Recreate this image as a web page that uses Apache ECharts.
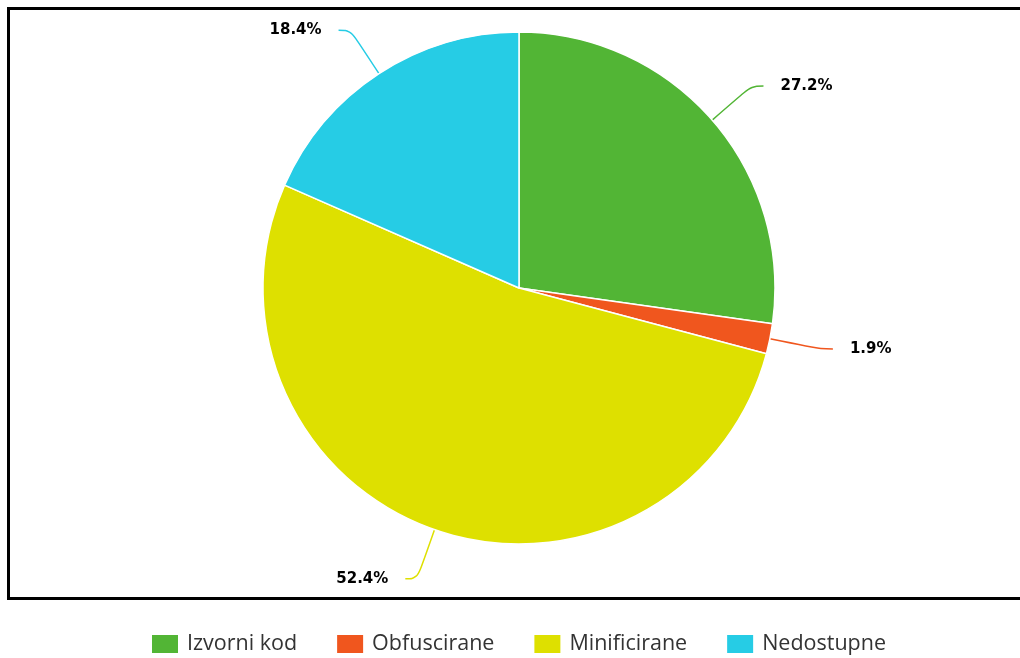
<!DOCTYPE html>
<html><head><meta charset="utf-8">
<script src="https://cdn.jsdelivr.net/npm/echarts@6/dist/echarts.min.js"></script>
<style>html,body{margin:0;padding:0;background:#fff}#c{width:1020px;height:658px}</style>
</head><body><div id="c"></div>
<script>
var categories = ['Izvorni kod', 'Obfuscirane', 'Minificirane', 'Nedostupne'];
var values = [27.2, 1.9, 52.4, 18.4];
var colors = ['#52b535', '#f0561e', '#dee000', '#26cce5'];

var chart = echarts.init(document.getElementById('c'));
chart.setOption({
  animation: false,
  color: colors,
  graphic: [{
    type: 'rect', z: 100, silent: true,
    shape: {x: 8.5, y: 8.5, width: 1030, height: 590},
    style: {fill: 'none', stroke: '#000', lineWidth: 3}
  }],
  legend: {
    top: 628, left: 145,
    icon: 'rect', itemWidth: 28, itemHeight: 20, itemGap: 38,
    textStyle: {fontFamily: 'Open Sans', fontSize: 21.5, color: '#333', padding: [0, 0, 0, 3]},
    data: categories
  },
  series: [{
    type: 'pie',
    center: [519, 288],
    radius: [0, 256],
    startAngle: 90,
    clockwise: true,
    itemStyle: {borderColor: '#fff', borderWidth: 1.5},
    label: {
      show: true, position: 'outside',
      formatter: '{c}%',
      fontFamily: 'DejaVu Sans', fontWeight: 'bold', fontSize: 15, color: '#000',
      distanceToLabelLine: 17
    },
    labelLine: {show: true, length: 52, length2: 12, smooth: 0.4, lineStyle: {width: 1.5}},
    emphasis: {disabled: true},
    data: categories.map(function (n, i) { return {name: n, value: values[i]}; })
  }]
});
</script></body></html>
